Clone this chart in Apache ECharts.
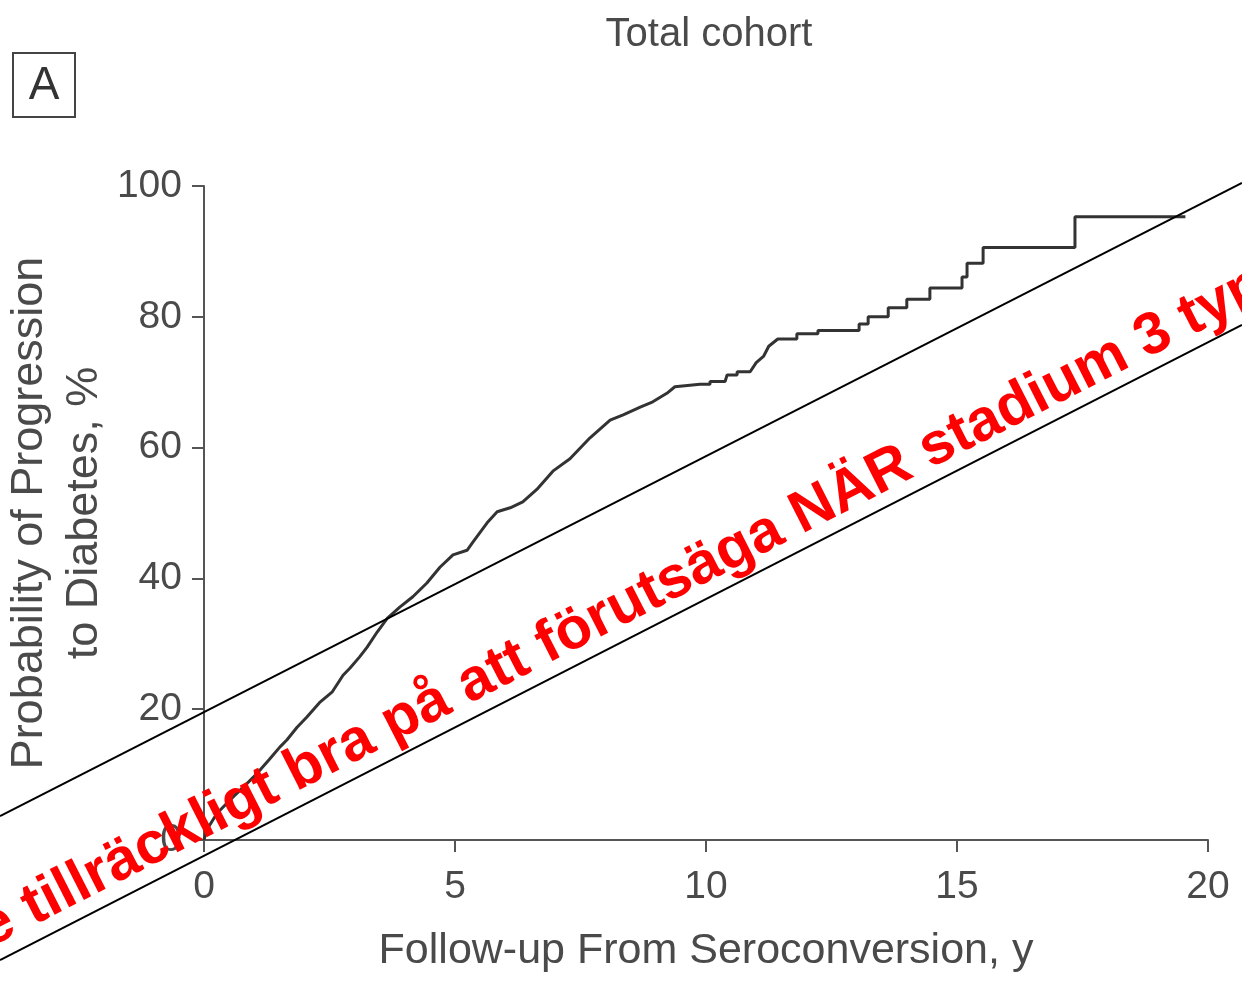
<!DOCTYPE html>
<html>
<head>
<meta charset="utf-8">
<script src="https://cdn.jsdelivr.net/npm/echarts@6/dist/echarts.min.js"></script>
<style>html,body{margin:0;padding:0;background:#fff}#c{width:1242px;height:981px}</style>
</head>
<body>
<div id="c"></div>
<script>
const titleText = 'Total cohort';
const panelLabel = 'A';
const xTicks = [0, 5, 10, 15, 20];
const yTicks = [0, 20, 40, 60, 80, 100];
const xAxisTitle = 'Follow-up From Seroconversion, y';
const yAxisTitle = 'Probability of Progression\nto Diabetes, %';
const bannerText = 'Inte tillräckligt bra på att förutsäga NÄR stadium 3 typ 1-diabetes';
// Follow-up time (years)
const followUpYears = [0,0.05,0.26,0.58,0.8,1.06,1.3,1.51,1.65,1.85,2.05,2.3,2.55,2.77,2.91,3.1,3.25,3.45,3.65,3.9,4.16,4.44,4.7,4.96,5.24,5.36,5.64,5.84,6.1,6.35,6.63,6.95,7.29,7.69,8.09,8.35,8.69,8.94,9.22,9.38,9.88,10.08,10.08,10.38,10.42,10.62,10.62,10.88,11.0,11.15,11.25,11.43,11.81,11.81,12.23,12.23,13.05,13.05,13.23,13.23,13.63,13.63,14.0,14.0,14.46,14.46,15.1,15.1,15.2,15.2,15.52,15.52,17.35,17.35,19.55];
// Cumulative probability of progression (%)
const progressionPct = [0,1.5,4.1,6.6,8.2,10.2,12.3,14.2,15.3,17.2,18.8,21,22.6,25.2,26.3,28,29.5,31.8,33.9,35.6,37.2,39.3,41.7,43.6,44.3,45.6,48.5,50.2,50.8,51.7,53.6,56.4,58.3,61.5,64.2,65,66.2,67,68.3,69.3,69.7,69.7,70.1,70.1,71.1,71.1,71.6,71.6,73,74,75.5,76.6,76.6,77.4,77.4,77.9,77.9,78.9,78.9,80.0,80.0,81.4,81.4,82.7,82.7,84.4,84.4,86.1,86.1,88.2,88.2,90.6,90.6,95.3,95.3];

const curve = followUpYears.map((x, i) => [x, progressionPct[i]]);
const font = '"Liberation Sans", Arial, sans-serif';
const axisGray = '#555';
const textGray = '#4a4a4a';
const ang = 27 * Math.PI / 180;

const chart = echarts.init(document.getElementById('c'), null, {renderer: 'canvas'});
chart.setOption({
  animation: false,
  backgroundColor: '#fff',
  title: {
    text: titleText, left: 704, top: 10, textAlign: 'center',
    textStyle: {fontFamily: font, fontSize: 40, fontWeight: 'normal', color: textGray}
  },
  grid: {left: 204, right: 34, top: 186, bottom: 141, containLabel: false, outerBoundsMode: 'none'},
  xAxis: {
    type: 'value', min: xTicks[0], max: xTicks[xTicks.length - 1], interval: 5,
    name: xAxisTitle, nameLocation: 'middle', nameGap: 90,
    nameTextStyle: {fontFamily: font, fontSize: 43, color: textGray},
    axisLine: {lineStyle: {color: axisGray, width: 2}},
    axisTick: {inside: false, length: 12, lineStyle: {color: axisGray, width: 2}},
    axisLabel: {margin: 28, fontFamily: font, fontSize: 39, color: textGray},
    splitLine: {show: false}
  },
  yAxis: {
    type: 'value', min: yTicks[0], max: yTicks[yTicks.length - 1], interval: 20,
    name: yAxisTitle, nameLocation: 'middle', nameGap: 92, nameRotate: 90, nameMoveOverlap: false,
    nameTextStyle: {fontFamily: font, fontSize: 45, color: textGray, lineHeight: 55, align: 'center'},
    axisLine: {show: true, lineStyle: {color: axisGray, width: 2}},
    axisTick: {show: true, inside: false, length: 12, lineStyle: {color: axisGray, width: 2}},
    axisLabel: {margin: 22, fontFamily: font, fontSize: 39, color: textGray},
    splitLine: {show: false}
  },
  series: [{
    type: 'line', data: curve, showSymbol: false, symbol: 'none',
    lineStyle: {color: '#333', width: 3}, z: 2
  }],
  graphic: [
    {type: 'rect', shape: {x: 13, y: 53, width: 62, height: 64}, style: {fill: 'none', stroke: '#444', lineWidth: 2}, z: 10},
    {type: 'text', x: 44, y: 86, style: {text: panelLabel, font: 'normal 46px ' + font, fill: '#333', align: 'center', verticalAlign: 'middle'}, z: 10},
    {type: 'line', shape: {x1: 0, y1: 816, x2: 1242, y2: 183}, style: {stroke: '#000', lineWidth: 2}, z: 20},
    {type: 'line', shape: {x1: 0, y1: 960, x2: 1242, y2: 325}, style: {stroke: '#000', lineWidth: 2}, z: 20},
    {type: 'text', x: -82, y: 966, rotation: ang,
     style: {text: bannerText, font: 'bold 59px ' + font, fill: '#ff0000', align: 'left', verticalAlign: 'middle'}, z: 20}
  ]
});
</script>
</body>
</html>
